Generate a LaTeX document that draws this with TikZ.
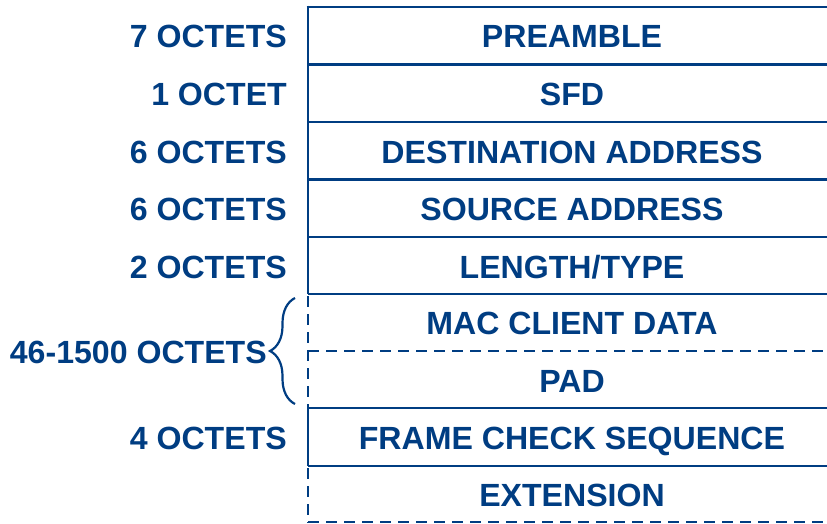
\documentclass[tikz,border=0pt]{standalone}
\usepackage{fontspec}
\setmainfont{Liberation Sans}
\usetikzlibrary{decorations.pathreplacing, positioning}
\definecolor{framebl}{HTML}{003D82}
\tikzset{
  field/.style={text=framebl, font=\fontsize{32.1}{36}\selectfont\bfseries, inner sep=0pt, text height=23pt, text depth=0pt},
  size/.style={field, anchor=east},
  rule/.style={draw=framebl, line width=2.6pt},
  gap/.style={rule, dash pattern=on 10.5pt off 7.5pt},
  span/.style={draw=framebl, line width=2.2pt, decorate, decoration={brace, amplitude=25pt}},
}

\begin{document}
\begin{tikzpicture}[x=1pt, y=-1pt]
  \useasboundingbox (0,0) rectangle (827,524);

  % frame rows
  \draw[rule] (308,5.7) -- (308,294);
  \draw[gap] (308,296) -- (308,408);
  \draw[rule] (308,408) -- (308,466);
  \draw[gap] (308,468) -- (308,523);
  \draw[rule] (306.7,7) -- (827,7);
  \draw[rule] (308,64.5) -- (827,64.5);
  \draw[rule] (308,122) -- (827,122);
  \draw[rule] (308,179.5) -- (827,179.5);
  \draw[rule] (308,237) -- (827,237);
  \draw[rule] (308,294) -- (827,294);
  \draw[gap] (308,351) -- (827,351);
  \draw[rule] (308,408) -- (827,408);
  \draw[rule] (308,466) -- (827,466);
  \draw[gap] (308,522) -- (827,522);

  % fields
  \node[field] (preamble) at (572,36) {PREAMBLE};
  \node[field] (sfd) at (572,94) {SFD};
  \node[field] (dest) at (572,152) {DESTINATION ADDRESS};
  \node[field] (src) at (572,209) {SOURCE ADDRESS};
  \node[field] (lentype) at (572,267) {LENGTH/TYPE};
  \node[field] (data) at (572,323) {MAC CLIENT DATA};
  \node[field] (pad) at (572,381) {PAD};
  \node[field] (fcs) at (572,438) {FRAME CHECK SEQUENCE};
  \node[field] (ext) at (572,495) {EXTENSION};

  % sizes
  \node[size] (preamble size) at (287,36) {7 OCTETS};
  \node[size] (sfd size) at (287,94) {1 OCTET};
  \node[size] (dest size) at (287,152) {6 OCTETS};
  \node[size] (src size) at (287,209) {6 OCTETS};
  \node[size] (lentype size) at (287,267) {2 OCTETS};
  \node[size] (fcs size) at (287,438) {4 OCTETS};

  \draw[span] (295,404) -- (295,298);
  \node[size] (data size) at (267,352) {46-1500 OCTETS};
\end{tikzpicture}
\end{document}
